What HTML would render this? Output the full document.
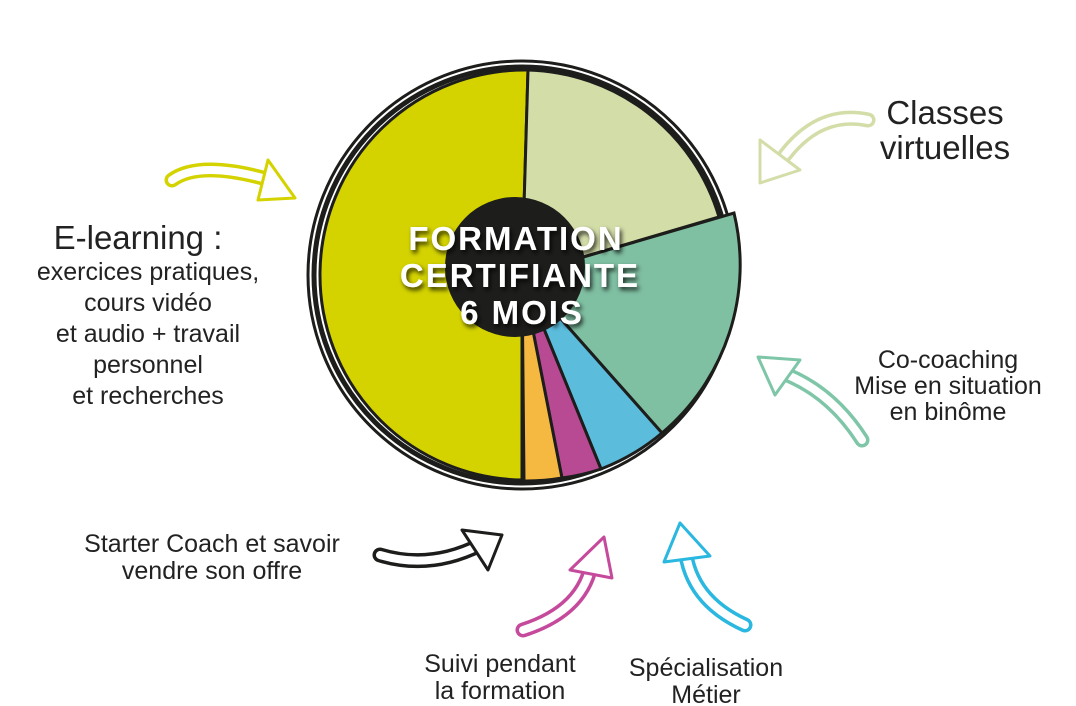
<!DOCTYPE html>
<html><head><meta charset="utf-8"><style>
body{margin:0;background:#fff;}
svg{display:block}
text{font-family:"Liberation Sans",sans-serif;fill:#222;}
</style></head><body>
<svg width="1076" height="706" viewBox="0 0 1076 706">
<defs>
<filter id="sh" x="-10%" y="-10%" width="120%" height="120%"><feDropShadow dx="2" dy="3" stdDeviation="2.5" flood-color="#000" flood-opacity="0.8"/></filter>
</defs>
<g transform="translate(522,275)">
<circle r="214" fill="none" stroke="#1d1d1b" stroke-width="3"/>
<circle r="208" fill="none" stroke="#1d1d1b" stroke-width="5"/>
<path d="M0,0 L0,205 A205,205 0 0 1 6,-205 Z" fill="#d4d300" stroke="#1d1d1b" stroke-width="3"/>
<path d="M0,0 L6,-205 A205,205 0 0 1 197,-58 Z" fill="#d3dda8" stroke="#1d1d1b" stroke-width="3"/>
<path d="M0,0 L212,-62 A220,220 0 0 1 140,158 Z" fill="#7fbfa2" stroke="#1d1d1b" stroke-width="3"/>
<path d="M0,0 L140,158 A212,212 0 0 1 79,194 Z" fill="#5bbcdc" stroke="#1d1d1b" stroke-width="3"/>
<path d="M0,0 L79,194 A208,208 0 0 1 40,203 Z" fill="#b84993" stroke="#1d1d1b" stroke-width="3"/>
<path d="M0,0 L40,203 A206,206 0 0 1 2,206 Z" fill="#f5b942" stroke="#1d1d1b" stroke-width="3"/>
<circle cx="-7" cy="-8" r="70" fill="#1d1d1b"/>
</g>
<g filter="url(#sh)" style="font-weight:bold;font-size:33px;letter-spacing:2px" text-anchor="middle">
<text x="516" y="250" style="fill:#fff">FORMATION</text>
<text x="520" y="287" style="fill:#fff">CERTIFIANTE</text>
<text x="522" y="324" style="fill:#fff">6 MOIS</text>
</g>
<g fill="none" stroke-linejoin="round" stroke-linecap="round">
 <g stroke="#d4d300">
  <path d="M172,180 Q200,160 270,180" stroke-width="15"/><path d="M172,180 Q200,160 270,180" stroke="#fff" stroke-width="8"/>
  <polygon points="268,160 295,198 258,200" fill="#fff" stroke-width="3"/>
 </g>
 <g stroke="#d3dda8">
  <path d="M868,120 Q820,110 785,155" stroke-width="15"/><path d="M868,120 Q820,110 785,155" stroke="#fff" stroke-width="8"/>
  <polygon points="760,140 760,183 800,170" fill="#fff" stroke-width="3"/>
 </g>
 <g stroke="#7fc6a8">
  <path d="M862,440 Q830,390 780,372" stroke-width="15"/><path d="M862,440 Q830,390 780,372" stroke="#fff" stroke-width="8"/>
  <polygon points="758,357 800,360 775,395" fill="#fff" stroke-width="3"/>
 </g>
 <g stroke="#1d1d1b">
  <path d="M380,555 Q430,570 480,545" stroke-width="15"/><path d="M380,555 Q430,570 480,545" stroke="#fff" stroke-width="8"/>
  <polygon points="462,530 502,535 488,570" fill="#fff" stroke-width="3"/>
 </g>
 <g stroke="#c64a9c">
  <path d="M523,630 Q585,610 592,560" stroke-width="15"/><path d="M523,630 Q585,610 592,560" stroke="#fff" stroke-width="8"/>
  <polygon points="604,537 570,570 612,578" fill="#fff" stroke-width="3"/>
 </g>
 <g stroke="#2ab7e0">
  <path d="M745,625 Q690,600 685,548" stroke-width="15"/><path d="M745,625 Q690,600 685,548" stroke="#fff" stroke-width="8"/>
  <polygon points="680,523 664,562 710,556" fill="#fff" stroke-width="3"/>
 </g>
</g>
<g text-anchor="middle">
<text x="945" y="124" font-size="33">Classes</text>
<text x="945" y="159" font-size="33">virtuelles</text>
<text x="138" y="249" font-size="33">E-learning :</text>
<text x="148" y="280" font-size="25">exercices pratiques,</text>
<text x="148" y="311" font-size="25">cours vidéo</text>
<text x="148" y="342" font-size="25">et audio + travail</text>
<text x="148" y="373" font-size="25">personnel</text>
<text x="148" y="404" font-size="25">et recherches</text>
<text x="948" y="368" font-size="25">Co-coaching</text>
<text x="948" y="394" font-size="25">Mise en situation</text>
<text x="948" y="420" font-size="25">en binôme</text>
<text x="212" y="552" font-size="25">Starter Coach et savoir</text>
<text x="212" y="579" font-size="25">vendre son offre</text>
<text x="500" y="672" font-size="25">Suivi pendant</text>
<text x="500" y="699" font-size="25">la formation</text>
<text x="706" y="676" font-size="25">Spécialisation</text>
<text x="706" y="703" font-size="25">Métier</text>
</g>
</svg>
</body></html>
